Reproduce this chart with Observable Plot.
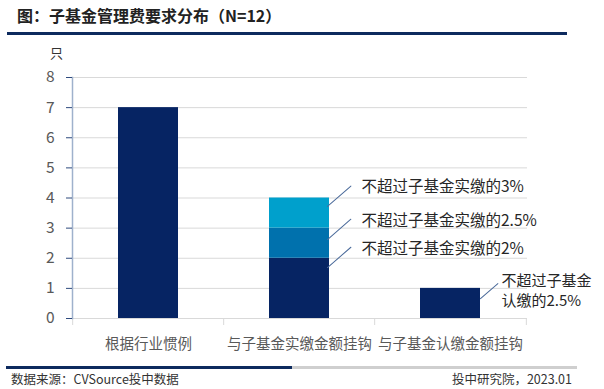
<!DOCTYPE html>
<html>
<head>
<meta charset="utf-8">
<script src="https://cdn.jsdelivr.net/npm/d3@7"></script>
<script src="https://cdn.jsdelivr.net/npm/@observablehq/plot@0.6"></script>
<style>
  html, body { margin: 0; padding: 0; background: #fff; }
  body { width: 604px; height: 389px; position: relative; overflow: hidden; font-family: "Noto Sans CJK SC", "Noto Sans", sans-serif; }
  .title { position: absolute; left: 17px; top: 3px; font-size: 16px; font-weight: bold; color: #222; line-height: 24px; white-space: nowrap; }
  .title-rule { position: absolute; left: 7px; top: 32px; width: 560px; height: 3px; background: #0d2a5e; }
  .unit { position: absolute; left: 50px; top: 44px; font-size: 13px; color: #333; line-height: 18px; }
  #chart { position: absolute; left: 0; top: 40px; }
  .foot-rule-a { position: absolute; left: 6px; top: 366px; width: 286px; height: 3px; background: #0d2a5e; }
  .foot-rule-b { position: absolute; left: 292px; top: 366px; width: 285px; height: 3px; background: #cfcfcf; }
  .foot-l { position: absolute; left: 11px; top: 370px; font-size: 12.5px; color: #333; line-height: 17px; white-space: nowrap; }
  .foot-r { position: absolute; right: 32px; top: 370px; font-size: 12.5px; color: #333; line-height: 17px; white-space: nowrap; }
</style>
</head>
<body>
<div class="title">图：子基金管理费要求分布（N=12）</div>
<div class="title-rule"></div>
<div class="unit">只</div>
<div id="chart"></div>
<div class="foot-rule-a"></div>
<div class="foot-rule-b"></div>
<div class="foot-l">数据来源：CVSource投中数据</div>
<div class="foot-r">投中研究院，2023.01</div>
<script>
// ---- data ----
const categories = ["根据行业惯例", "与子基金实缴金额挂钩", "与子基金认缴金额挂钩"];
const barCategory = ["根据行业惯例", "与子基金实缴金额挂钩", "与子基金实缴金额挂钩", "与子基金实缴金额挂钩", "与子基金认缴金额挂钩"];
const barSeries = ["根据行业惯例", "不超过子基金实缴的2%", "不超过子基金实缴的2.5%", "不超过子基金实缴的3%", "不超过子基金认缴的2.5%"];
const barValues = [7, 2, 1, 1, 1];
const yTicks = [0, 1, 2, 3, 4, 5, 6, 7, 8];
// leader-line anchors (value along the bar where each label's line starts)
const labelCategory = ["与子基金实缴金额挂钩", "与子基金实缴金额挂钩", "与子基金实缴金额挂钩"];
const labelAt = [3.72, 2.62, 1.69];
const labelText = ["不超过子基金实缴的3%", "不超过子基金实缴的2.5%", "不超过子基金实缴的2%"];
const label2Category = ["与子基金认缴金额挂钩"];
const label2At = [0.66];
const label2Text = ["不超过子基金\n认缴的2.5%"];

// ---- styles ----
const seriesColors = ["#062463", "#062463", "#0071ad", "#00a0cc", "#062463"];

const bars = barValues.map((v, i) => ({cat: barCategory[i], series: barSeries[i], value: v}));
const labels = labelAt.map((v, i) => ({cat: labelCategory[i], value: v, text: labelText[i]}));
const labels2 = label2At.map((v, i) => ({cat: label2Category[i], value: v, text: label2Text[i]}));

const line = {draw(ctx, l) { ctx.moveTo(0, 0); ctx.lineTo(0, -l); }};
const step = (604 - 72 - 77) / 3;

const chart = Plot.plot({
  width: 604,
  height: 320,
  marginLeft: 72,
  marginRight: 77,
  marginTop: 37,
  marginBottom: 42,
  style: {fontFamily: "'Noto Sans CJK SC', 'Noto Sans', sans-serif", fontSize: "15px", background: "transparent"},
  x: {domain: categories, paddingInner: 0.6, paddingOuter: 0.3, label: null},
  y: {domain: [0, 8], label: null},
  color: {domain: barSeries, range: seriesColors},
  marks: [
    Plot.ruleY(yTicks, {stroke: "#d9d9d9", strokeWidth: 1}),
    Plot.ruleX(categories, {x: d => d, y1: 0, y2: 0, dx: -step / 2, insetBottom: -7, stroke: "#d9d9d9"}),
    Plot.ruleX([categories[categories.length - 1]], {x: d => d, y1: 0, y2: 0, dx: step / 2, insetBottom: -7, stroke: "#d9d9d9"}),
    Plot.barY(bars, {x: "cat", y: "value", fill: "series"}),
    Plot.frame({anchor: "left", stroke: "#9fb1cc", strokeWidth: 1.5}),
    Plot.axisY({ticks: yTicks, tickSize: 6, tickPadding: 12, stroke: "#2e4a7d", fill: "#595959", fontSize: 15.5, tickFormat: d => String(d)}),
    Plot.axisX({tickSize: 0, tickPadding: 20, fill: "#595959", fontSize: 14.5}),
    Plot.vector(labels, {x: "cat", y: "value", anchor: "start", length: 31, rotate: 49, dx: 28, shape: line, stroke: "#4a6a9a", strokeWidth: 1}),
    Plot.vector(labels2, {x: "cat", y: "value", anchor: "start", length: 23, rotate: 49, dx: 30, shape: line, stroke: "#4a6a9a", strokeWidth: 1}),
    Plot.text(labels, {x: "cat", y: "value", text: "text", textAnchor: "start", dx: 62, dy: -19, fill: "#262626", fontSize: 15.5}),
    Plot.text(labels2, {x: "cat", y: "value", text: "text", textAnchor: "start", lineAnchor: "middle", lineHeight: 1.35, dx: 51, dy: -9, fill: "#262626", fontSize: 15})
  ]
});
document.getElementById("chart").appendChild(chart);
</script>
</body>
</html>
